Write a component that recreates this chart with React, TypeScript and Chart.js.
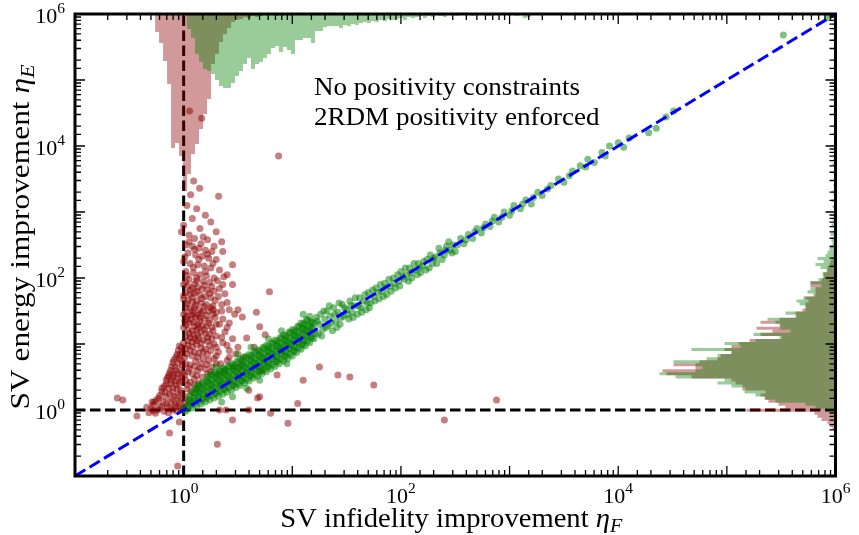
import React, { useEffect, useRef } from 'react';
import { Chart, registerables } from 'chart.js';

Chart.register(...registerables);

// ---------- axis ranges / ticks ----------
const AXIS_MIN = 0.1;
const AXIS_MAX = 1e6;
const labelledExponents = [0, 2, 4, 6];

// ---------- marginal histograms (bins are uniform in log10) ----------
const TOP_BIN_WIDTH = 0.0368; // decades of eta_F per bin
const RIGHT_BIN_WIDTH = 0.046; // decades of eta_E per bin
const TOP_COUNT_MAX = 462;
const RIGHT_COUNT_MAX = 760.5;

const redTopStart = -0.263;
const redTopCounts = [18, 29, 47, 70, 134, 129, 142, 177, 160, 140, 130, 115, 100, 85, 50, 40, 28, 20, 14, 8, 6, 5, 3, 4, 2, 3, 2, 1, 1, 0, 2, 0, 1];

const greenTopStart = 0.031;
const greenTopCounts = [
  15, 24, 40, 48, 55, 57, 60, 66, 72, 74, 74, 69, 62, 57, 50, 44, 55, 50, 48, 44,
  40, 34, 32, 38, 33, 36, 40, 26, 26, 24, 24, 29, 17, 17, 13, 12, 12, 12, 14, 11,
  12, 10, 11, 9, 8, 9, 7, 8, 6, 7, 5, 6, 5, 4, 6, 3, 4, 3, 2, 4, 2, 3, 1, 2, 3, 1,
  0, 2, 0, 1, 0, 2, 1, 0, 1, 2, 0, 1, 0, 0, 1, 0, 2, 0, 4, 3, 1, 0,
];

const rightStart = -0.303;
const redRightCounts = [
  3, 6, 8, 14, 18, 21, 89, 50, 57, 67, 71, 75, 70, 93, 93, 100, 104, 144, 169, 173,
  140, 162, 136, 118, 115, 104, 111, 104, 97, 86, 54, 75, 63, 79, 56, 75, 56, 39, 40, 33,
  30, 30, 27, 32, 22, 20, 20, 25, 25, 14, 12, 12, 8, 8, 6, 5, 3, 2, 2, 1, 0, 2, 0, 1, 0, 0, 1,
];
const greenRightCounts = [
  0, 0, 0, 0, 0, 0, 10, 20, 30, 60, 70, 80, 91, 90, 104, 118, 111, 160, 176, 140,
  133, 140, 162, 129, 118, 104, 144, 95, 111, 80, 56, 82, 45, 55, 55, 60, 68, 40, 50, 30,
  30, 36, 39, 30, 20, 28, 25, 14, 25, 17, 12, 13, 9, 15, 20, 12, 18, 10, 8, 6, 5, 3, 4, 0,
  5, 2, 0, 4, 0, 3, 2, 0, 0, 3, 0, 4, 0, 2, 3, 0, 2, 0, 0, 0, 2, 0, 0, 3, 0, 2,
];

// ---------- scatter points: [log10 eta_F, log10 eta_E] ----------
const redPoints = [
  [0.055, 4.53], [0.166, 4.42], [0.874, 3.85], [0.092, 3.47], [0.147, 3.36], [0.064, 3.26], [0.322, 3.24],
  [0.03, 3.1], [0.12, 3.05], [0.2, 2.95], [0.08, 2.9], [0.25, 2.85], [0.0, 2.8], [0.15, 2.75], [0.3, 2.7],
  [0.05, 2.65], [0.18, 2.62], [0.1, 2.6], [0.22, 2.58], [0.35, 2.55], [-0.02, 2.7],
  [0.02, 2.5], [0.08, 2.48], [0.14, 2.45], [0.2, 2.42], [0.26, 2.4], [0.04, 2.38], [0.11, 2.35], [0.17, 2.33],
  [0.23, 2.3], [0.3, 2.28], [0.0, 2.25], [0.06, 2.22], [0.13, 2.2], [0.19, 2.18], [0.25, 2.15], [0.33, 2.12],
  [0.02, 2.1], [0.09, 2.08], [0.15, 2.05], [0.21, 2.03], [0.28, 2.0], [0.4, 2.05], [0.05, 1.98], [0.12, 1.96],
  [0.18, 1.95], [0.24, 1.93], [0.36, 1.9], [0.45, 2.2],
  [0.05, 2.55], [0.16, 2.52], [0.28, 2.48], [0.1, 2.43], [0.22, 2.36], [0.36, 2.4], [0.01, 2.32], [0.14, 2.28],
  [0.27, 2.22], [0.09, 2.16], [0.2, 2.1], [0.37, 2.02], [0.03, 2.04], [0.12, 2.0], [0.31, 1.96],
  [0.0, 1.9], [0.04, 1.88], [0.08, 1.85], [0.13, 1.86], [0.17, 1.83], [0.22, 1.82], [0.28, 1.8], [0.02, 1.78],
  [0.06, 1.75], [0.1, 1.77], [0.15, 1.74], [0.2, 1.72], [0.25, 1.7], [0.32, 1.72], [0.0, 1.68], [0.04, 1.66],
  [0.08, 1.64], [0.12, 1.65], [0.16, 1.62], [0.21, 1.6], [0.27, 1.58], [0.35, 1.6], [0.02, 1.56], [0.06, 1.54],
  [0.1, 1.55], [0.14, 1.52], [0.18, 1.5], [0.23, 1.5], [0.3, 1.48], [0.42, 1.52],
  [0.02, 1.94], [0.1, 1.91], [0.19, 1.89], [0.26, 1.87], [0.33, 1.84], [0.06, 1.82], [0.12, 1.8], [0.24, 1.77],
  [0.38, 1.76], [0.0, 1.73], [0.08, 1.71], [0.17, 1.69], [0.29, 1.66], [0.03, 1.61], [0.11, 1.59], [0.19, 1.57],
  [0.25, 1.55], [0.4, 1.63], [0.08, 1.5], [0.16, 1.47], [0.27, 1.52], [0.35, 1.5], [0.47, 1.45],
  [0.0, 1.45], [0.03, 1.42], [0.07, 1.44], [0.11, 1.41], [0.15, 1.4], [0.19, 1.38], [0.24, 1.36], [0.29, 1.4],
  [0.01, 1.35], [0.05, 1.32], [0.09, 1.33], [0.13, 1.3], [0.17, 1.28], [0.21, 1.27], [0.26, 1.25], [0.33, 1.3],
  [0.0, 1.25], [0.04, 1.22], [0.08, 1.2], [0.12, 1.22], [0.16, 1.18], [0.2, 1.16], [0.24, 1.15], [0.3, 1.12],
  [0.38, 1.18], [0.02, 1.12], [0.06, 1.1], [0.1, 1.08], [0.14, 1.1], [0.18, 1.06], [0.22, 1.04], [0.28, 1.0],
  [0.36, 1.02], [0.45, 1.08], [0.0, 1.02], [0.04, 0.98], [0.08, 0.96], [0.12, 0.99], [0.16, 0.94], [0.2, 0.92],
  [0.25, 0.9], [0.32, 0.88], [0.42, 0.9], [0.5, 0.95],
  [0.02, 1.48], [0.09, 1.46], [0.13, 1.44], [0.21, 1.43], [0.27, 1.45], [0.36, 1.38], [0.03, 1.38], [0.07, 1.37],
  [0.15, 1.35], [0.23, 1.32], [0.3, 1.3], [0.4, 1.25], [0.02, 1.29], [0.1, 1.27], [0.14, 1.25], [0.19, 1.22],
  [0.27, 1.2], [0.35, 1.1], [0.05, 1.16], [0.09, 1.14], [0.13, 1.14], [0.22, 1.1], [0.26, 1.08], [0.04, 1.05],
  [0.08, 1.03], [0.12, 1.05], [0.16, 1.01], [0.24, 0.98], [0.3, 0.95], [0.4, 0.98], [0.02, 0.93], [0.06, 0.9],
  [0.1, 0.88], [0.14, 0.86], [0.18, 0.88], [0.22, 0.84], [0.3, 0.82], [0.48, 0.85],
  [-0.02, 0.95], [-0.05, 0.9], [-0.03, 0.85], [-0.07, 0.8], [-0.02, 0.75], [-0.1, 0.72], [-0.05, 0.7], [-0.08, 0.65],
  [-0.12, 0.6], [-0.03, 0.6], [-0.06, 0.55], [-0.14, 0.52], [-0.1, 0.5], [-0.02, 0.5], [-0.16, 0.45], [-0.08, 0.44],
  [-0.12, 0.4], [-0.04, 0.4], [-0.18, 0.36], [-0.14, 0.33], [-0.06, 0.32], [-0.2, 0.28], [-0.1, 0.27], [-0.02, 0.25],
  [-0.22, 0.22], [-0.16, 0.2], [-0.08, 0.2], [-0.25, 0.15], [-0.19, 0.13], [-0.12, 0.12], [-0.04, 0.13], [-0.28, 0.08],
  [-0.22, 0.06], [-0.15, 0.05], [-0.08, 0.06], [-0.3, 0.02], [-0.24, 0.0], [-0.18, -0.02], [-0.1, 0.0], [-0.03, 0.02],
  [-0.32, -0.04], [-0.26, -0.05],
  [-0.04, 0.97], [-0.01, 0.88], [-0.06, 0.84], [-0.09, 0.76], [-0.04, 0.78], [-0.01, 0.68], [-0.11, 0.66], [-0.07, 0.6],
  [-0.01, 0.56], [-0.13, 0.56], [-0.09, 0.54], [-0.05, 0.48], [-0.15, 0.49], [-0.11, 0.45], [-0.02, 0.43], [-0.07, 0.38],
  [-0.16, 0.39], [-0.2, 0.33], [-0.1, 0.34], [-0.03, 0.3], [-0.17, 0.27], [-0.13, 0.24], [-0.05, 0.22], [-0.23, 0.18],
  [-0.1, 0.16], [-0.02, 0.16], [-0.27, 0.12], [-0.16, 0.1], [-0.07, 0.1], [-0.2, 0.04], [-0.12, 0.03], [-0.05, 0.05],
  [-0.34, 0.04], [-0.28, -0.01], [-0.14, -0.04], [-0.06, -0.02],
  [0.03, 0.85], [0.08, 0.82], [0.13, 0.8], [0.18, 0.78], [0.23, 0.75], [0.28, 0.78], [0.02, 0.7], [0.06, 0.68],
  [0.1, 0.66], [0.15, 0.64], [0.2, 0.62], [0.26, 0.65], [0.34, 0.7], [0.04, 0.58], [0.08, 0.55], [0.12, 0.52],
  [0.17, 0.5], [0.22, 0.55], [0.02, 0.45], [0.06, 0.42], [0.1, 0.38], [0.14, 0.4], [0.03, 0.32], [0.07, 0.28],
  [0.02, 0.2], [0.05, 0.12], [0.0, 0.05], [0.4, 0.75], [0.46, 0.65], [0.55, 0.8], [0.38, 0.6],
  [0.01, 0.8], [0.11, 0.74], [0.16, 0.7], [0.21, 0.69], [0.05, 0.63], [0.13, 0.6], [0.25, 0.58], [0.01, 0.53],
  [0.1, 0.47], [0.04, 0.38], [0.12, 0.32], [0.01, 0.1], [0.3, 0.7], [0.33, 0.55],
  [-0.61, 0.18], [-0.56, 0.15], [-0.43, -0.09], [-0.29, 0.12], [-0.13, -0.35], [-0.04, -0.18], [0.31, -0.52],
  [0.45, -0.15], [0.96, -0.2], [0.86, 0.53], [0.68, 0.18], [0.75, 1.14], [0.79, 1.79], [0.5, 1.52], [0.54, 1.41],
  [-0.055, -0.85], [1.42, 0.53], [1.53, 0.5], [1.75, 0.38], [2.4, -0.15], [2.88, 0.15], [0.6, 0.3], [1.1, 0.45],
  [1.25, 0.65], [0.9, 0.9], [0.65, 0.95], [0.72, 0.6], [0.8, -0.05], [1.05, 0.1], [0.42, 0.8], [0.52, 0.65],
  [0.58, 1.09], [0.7, 1.26], [0.67, 1.48], [0.42, 1.32], [0.45, 1.9], [0.7, 0.2], [0.6, 0.0], [0.33, 0.0], [0.39, 0.0],
];

const greenPoints = [
  [0.0, 0.0], [0.01, 0.05], [0.02, -0.02],
  [0.04, 0.02], [0.05, 0.09], [0.04, 0.16],
  [0.08, 0.03], [0.07, 0.11], [0.09, 0.19], [0.08, 0.26],
  [0.12, 0.06], [0.11, 0.14], [0.13, 0.22], [0.12, 0.3], [0.13, 0.37],
  [0.16, 0.09], [0.17, 0.17], [0.15, 0.25], [0.16, 0.33], [0.17, 0.41],
  [0.2, 0.12], [0.21, 0.2], [0.19, 0.28], [0.2, 0.36], [0.21, 0.44],
  [0.24, 0.15], [0.23, 0.23], [0.25, 0.31], [0.24, 0.39], [0.23, 0.47], [0.25, 0.54],
  [0.28, 0.18], [0.29, 0.26], [0.27, 0.34], [0.28, 0.42], [0.29, 0.5], [0.28, 0.57],
  [0.32, 0.21], [0.31, 0.29], [0.33, 0.37], [0.32, 0.45], [0.31, 0.53], [0.33, 0.6],
  [0.36, 0.24], [0.37, 0.32], [0.35, 0.4], [0.36, 0.48], [0.37, 0.56], [0.36, 0.64],
  [0.4, 0.27], [0.39, 0.35], [0.41, 0.43], [0.4, 0.51], [0.39, 0.59], [0.41, 0.67],
  [0.44, 0.3], [0.45, 0.38], [0.43, 0.46], [0.44, 0.54], [0.45, 0.62], [0.44, 0.7],
  [0.48, 0.34], [0.47, 0.42], [0.49, 0.5], [0.48, 0.58], [0.47, 0.66], [0.49, 0.74],
  [0.52, 0.37], [0.53, 0.45], [0.51, 0.53], [0.52, 0.61], [0.53, 0.69], [0.52, 0.77],
  [0.56, 0.41], [0.55, 0.49], [0.57, 0.57], [0.56, 0.65], [0.55, 0.73], [0.57, 0.81],
  [0.6, 0.44], [0.61, 0.52], [0.59, 0.6], [0.6, 0.68], [0.61, 0.76], [0.6, 0.84],
  [0.64, 0.48], [0.63, 0.56], [0.65, 0.64], [0.64, 0.72], [0.63, 0.8], [0.65, 0.88],
  [0.68, 0.51], [0.69, 0.59], [0.67, 0.67], [0.68, 0.75], [0.69, 0.83], [0.68, 0.91],
  [0.72, 0.55], [0.71, 0.63], [0.73, 0.71], [0.72, 0.79], [0.71, 0.87], [0.73, 0.95],
  [0.76, 0.58], [0.77, 0.66], [0.75, 0.74], [0.76, 0.82], [0.77, 0.9], [0.76, 0.98],
  [0.8, 0.62], [0.79, 0.7], [0.81, 0.78], [0.8, 0.86], [0.79, 0.94], [0.81, 1.02],
  [0.84, 0.66], [0.85, 0.74], [0.83, 0.82], [0.84, 0.9], [0.85, 0.98], [0.84, 1.06],
  [0.88, 0.7], [0.87, 0.78], [0.89, 0.86], [0.88, 0.94], [0.87, 1.02], [0.89, 1.1],
  [0.92, 0.74], [0.93, 0.82], [0.91, 0.9], [0.92, 0.98], [0.93, 1.06], [0.92, 1.14],
  [0.96, 0.78], [0.95, 0.86], [0.97, 0.94], [0.96, 1.02], [0.95, 1.1], [0.97, 1.18],
  [1.0, 0.82], [1.01, 0.9], [0.99, 0.98], [1.0, 1.06], [1.01, 1.14], [1.0, 1.22],
  [1.04, 0.87], [1.03, 0.95], [1.05, 1.03], [1.04, 1.11], [1.03, 1.19], [1.05, 1.27],
  [1.08, 0.92], [1.09, 1.0], [1.07, 1.08], [1.08, 1.16], [1.09, 1.24], [1.08, 1.32],
  [1.12, 0.97], [1.11, 1.05], [1.13, 1.13], [1.12, 1.21], [1.11, 1.29], [1.13, 1.37],
  [1.16, 1.02], [1.17, 1.1], [1.15, 1.18], [1.16, 1.26], [1.17, 1.34], [1.16, 1.42],
  [1.2, 1.08], [1.21, 1.16], [1.19, 1.24], [1.2, 1.32], [1.22, 1.4],
  [0.06, 0.07], [0.06, 0.15], [0.06, 0.22],
  [0.1, 0.1], [0.1, 0.18], [0.1, 0.26], [0.1, 0.33],
  [0.14, 0.13], [0.14, 0.21], [0.14, 0.29], [0.14, 0.37],
  [0.18, 0.16], [0.18, 0.24], [0.18, 0.32], [0.18, 0.4],
  [0.22, 0.19], [0.22, 0.27], [0.22, 0.35], [0.22, 0.43], [0.22, 0.5],
  [0.26, 0.22], [0.26, 0.3], [0.26, 0.38], [0.26, 0.46], [0.26, 0.53],
  [0.3, 0.25], [0.3, 0.33], [0.3, 0.41], [0.3, 0.49], [0.3, 0.56],
  [0.34, 0.28], [0.34, 0.36], [0.34, 0.44], [0.34, 0.52], [0.34, 0.59],
  [0.38, 0.31], [0.38, 0.39], [0.38, 0.47], [0.38, 0.55], [0.38, 0.62],
  [0.42, 0.34], [0.42, 0.42], [0.42, 0.5], [0.42, 0.58], [0.42, 0.65],
  [0.46, 0.37], [0.46, 0.45], [0.46, 0.53], [0.46, 0.61], [0.46, 0.69],
  [0.5, 0.4], [0.5, 0.48], [0.5, 0.56], [0.5, 0.64], [0.5, 0.72],
  [0.54, 0.44], [0.54, 0.52], [0.54, 0.6], [0.54, 0.68], [0.54, 0.76],
  [0.58, 0.47], [0.58, 0.55], [0.58, 0.63], [0.58, 0.71], [0.58, 0.79],
  [0.62, 0.51], [0.62, 0.59], [0.62, 0.67], [0.62, 0.75], [0.62, 0.83],
  [0.66, 0.54], [0.66, 0.62], [0.66, 0.7], [0.66, 0.78], [0.66, 0.86],
  [0.7, 0.58], [0.7, 0.66], [0.7, 0.74], [0.7, 0.82], [0.7, 0.9],
  [0.74, 0.61], [0.74, 0.69], [0.74, 0.77], [0.74, 0.85], [0.74, 0.93],
  [0.78, 0.65], [0.78, 0.73], [0.78, 0.81], [0.78, 0.89], [0.78, 0.97],
  [0.82, 0.69], [0.82, 0.77], [0.82, 0.85], [0.82, 0.93], [0.82, 1.01],
  [0.86, 0.73], [0.86, 0.81], [0.86, 0.89], [0.86, 0.97], [0.86, 1.05],
  [0.9, 0.77], [0.9, 0.85], [0.9, 0.93], [0.9, 1.01], [0.9, 1.09],
  [0.94, 0.81], [0.94, 0.89], [0.94, 0.97], [0.94, 1.05], [0.94, 1.13],
  [0.98, 0.85], [0.98, 0.93], [0.98, 1.01], [0.98, 1.09], [0.98, 1.17],
  [1.02, 0.89], [1.02, 0.97], [1.02, 1.05], [1.02, 1.13], [1.02, 1.21],
  [1.06, 0.94], [1.06, 1.02], [1.06, 1.1], [1.06, 1.18], [1.06, 1.26],
  [1.1, 0.99], [1.1, 1.07], [1.1, 1.15], [1.1, 1.23], [1.1, 1.31],
  [1.14, 1.04], [1.14, 1.12], [1.14, 1.2], [1.14, 1.28], [1.14, 1.36],
  [1.18, 1.09], [1.18, 1.17], [1.18, 1.25], [1.18, 1.33],
  [0.3, 0.66], [0.5, 0.85], [0.62, 0.95], [0.78, 1.08], [0.9, 1.2], [1.1, 1.45], [0.45, 0.2], [0.7, 0.45],
  [0.95, 0.7], [0.35, 0.12], [0.58, 0.33],
  [1.24, 1.15], [1.25, 1.3], [1.26, 1.45], [1.28, 1.22], [1.3, 1.38], [1.32, 1.5], [1.33, 1.28], [1.35, 1.42],
  [1.37, 1.2], [1.38, 1.55], [1.4, 1.35], [1.42, 1.48], [1.44, 1.3], [1.46, 1.6], [1.47, 1.42], [1.5, 1.52],
  [1.52, 1.38], [1.53, 1.65], [1.55, 1.48], [1.57, 1.58], [1.6, 1.45], [1.62, 1.7], [1.63, 1.55], [1.66, 1.65],
  [1.68, 1.52], [1.7, 1.78], [1.72, 1.62], [1.75, 1.72], [1.77, 1.85], [1.8, 1.68], [1.82, 1.8], [1.85, 1.92],
  [1.87, 1.75], [1.9, 1.88], [1.93, 2.0], [1.95, 1.85], [1.98, 1.95], [2.0, 2.1], [2.03, 1.98], [2.05, 2.05],
  [2.08, 2.15], [2.1, 2.0], [2.13, 2.12], [2.16, 2.22], [2.18, 2.08], [2.2, 2.18], [2.24, 2.28], [2.26, 2.15],
  [2.3, 2.3], [2.33, 2.22], [2.36, 2.38], [2.4, 2.35], [2.42, 2.48], [2.45, 2.42], [2.48, 2.5], [2.5, 2.4],
  [1.23, 1.35], [1.27, 1.12], [1.29, 1.5], [1.31, 1.25], [1.34, 1.58], [1.36, 1.32], [1.39, 1.45], [1.41, 1.25],
  [1.43, 1.62], [1.45, 1.4], [1.48, 1.55], [1.51, 1.45], [1.54, 1.58], [1.56, 1.4], [1.58, 1.7], [1.61, 1.58],
  [1.64, 1.48], [1.67, 1.75], [1.69, 1.62], [1.71, 1.55], [1.74, 1.82], [1.76, 1.65], [1.79, 1.78], [1.81, 1.9],
  [1.84, 1.72], [1.86, 1.85], [1.89, 1.98], [1.91, 1.8], [1.94, 1.92], [1.97, 2.05], [1.99, 1.88], [2.02, 2.02],
  [2.04, 2.15], [2.07, 1.95], [2.09, 2.08], [2.12, 2.22], [2.15, 2.05], [2.17, 2.15], [2.21, 2.25], [2.23, 2.12],
  [2.27, 2.35], [2.29, 2.22], [2.32, 2.32], [2.35, 2.45], [2.38, 2.28], [2.41, 2.42], [2.44, 2.55], [2.47, 2.38],
  [2.52, 2.5], [2.6, 2.58], [2.68, 2.7], [2.76, 2.76], [2.84, 2.86], [2.93, 2.92], [3.02, 3.02], [3.12, 3.12],
  [3.22, 3.22], [3.35, 3.35], [3.55, 3.55], [3.7, 3.68], [3.88, 3.85], [4.05, 3.98],
  [2.55, 2.6], [2.58, 2.52], [2.62, 2.66], [2.66, 2.6], [2.7, 2.75], [2.74, 2.68], [2.78, 2.82], [2.82, 2.78],
  [2.86, 2.92], [2.9, 2.85], [2.95, 3.0], [3.0, 2.95], [3.04, 3.1], [3.1, 3.05], [3.15, 3.18], [3.2, 3.12],
  [3.26, 3.3], [3.3, 3.25], [3.38, 3.4], [3.45, 3.5], [3.5, 3.45], [3.58, 3.62], [3.65, 3.7], [3.72, 3.8],
  [3.78, 3.75], [3.85, 3.9], [3.92, 4.0], [4.0, 4.05], [4.1, 4.12],
  [4.28, 4.2], [4.35, 4.27], [4.44, 4.44], [4.51, 4.53], [5.52, 5.68], [5.93, 5.94],
];

// ---------- text ----------
const legendLabels = ['No positivity constraints', '2RDM positivity enforced'];
const xTitle = { text: 'SV infidelity improvement ', symbol: 'η', sub: 'F' };
const yTitle = { text: 'SV energy improvement ', symbol: 'η', sub: 'E' };

const RED = 'rgba(139,0,0,0.5)';
const GREEN = 'rgba(0,128,0,0.5)';
const RED_HIST = 'rgba(139,0,0,0.4)';
const GREEN_HIST = 'rgba(0,128,0,0.4)';
const FONT = '"Liberation Serif", "Times New Roman", serif';

function topHist(start: number, counts: number[]) {
  const pts: any[] = [{ x: 10 ** start, y: 0 }];
  counts.forEach((c, i) => {
    pts.push({ x: 10 ** (start + i * TOP_BIN_WIDTH), y: c });
    pts.push({ x: 10 ** (start + (i + 1) * TOP_BIN_WIDTH), y: c });
  });
  pts.push({ x: 10 ** (start + counts.length * TOP_BIN_WIDTH), y: 0 });
  return pts;
}
function rightHist(start: number, counts: number[]) {
  const pts: any[] = [{ x: 0, y: 10 ** start }];
  counts.forEach((c, i) => {
    pts.push({ x: c, y: 10 ** (start + i * RIGHT_BIN_WIDTH) });
    pts.push({ x: c, y: 10 ** (start + (i + 1) * RIGHT_BIN_WIDTH) });
  });
  pts.push({ x: 0, y: 10 ** (start + counts.length * RIGHT_BIN_WIDTH) });
  return pts;
}
const toXY = (arr: number[][]) => arr.map(([a, b]) => ({ x: 10 ** a, y: 10 ** b }));

type Seg = { t: string; size: number; italic?: boolean; dy?: number };
const segFont = (s: Seg) => `${s.italic ? 'italic ' : ''}${s.size}px ${FONT}`;
function measureSegs(ctx: CanvasRenderingContext2D, segs: Seg[]) {
  let w = 0;
  for (const s of segs) {
    ctx.font = segFont(s);
    w += ctx.measureText(s.t).width;
  }
  return w;
}
function drawSegs(ctx: CanvasRenderingContext2D, segs: Seg[], x: number, y: number, align: string, stretch: number, rot = 0) {
  ctx.save();
  ctx.translate(x, y);
  if (rot) ctx.rotate(rot);
  ctx.scale(stretch, 1);
  const w = measureSegs(ctx, segs);
  let cx = align === 'center' ? -w / 2 : align === 'right' ? -w : 0;
  ctx.textAlign = 'left';
  ctx.textBaseline = 'alphabetic';
  ctx.fillStyle = '#000';
  for (const s of segs) {
    ctx.font = segFont(s);
    ctx.fillText(s.t, cx, s.dy || 0);
    cx += ctx.measureText(s.t).width;
  }
  ctx.restore();
}

const isDecade = (v: number) => Math.abs(Math.log10(v) - Math.round(Math.log10(v))) < 1e-6;

const decorPlugin = {
  id: 'decor',
  afterDraw(chart: any) {
    const { ctx, chartArea: a, scales } = chart;
    const xs = scales.x;
    const ys = scales.y;
    ctx.save();
    ctx.strokeStyle = '#000';
    ctx.lineWidth = 1.3;
    ctx.beginPath();
    for (const t of xs.ticks) {
      const px = xs.getPixelForValue(t.value);
      if (px <= a.left + 1 || px >= a.right - 1) continue;
      const len = isDecade(t.value) ? 10 : 6;
      ctx.moveTo(px, a.bottom);
      ctx.lineTo(px, a.bottom - len);
      ctx.moveTo(px, a.top);
      ctx.lineTo(px, a.top + len);
    }
    for (const t of ys.ticks) {
      const py = ys.getPixelForValue(t.value);
      if (py <= a.top + 1 || py >= a.bottom - 1) continue;
      const len = isDecade(t.value) ? 10 : 6;
      ctx.moveTo(a.left, py);
      ctx.lineTo(a.left + len, py);
      ctx.moveTo(a.right, py);
      ctx.lineTo(a.right - len, py);
    }
    ctx.stroke();
    ctx.lineWidth = 3;
    ctx.strokeRect(a.left, a.top, a.right - a.left, a.bottom - a.top);

    // tick labels
    for (const e of labelledExponents) {
      const segs: Seg[] = [{ t: '10', size: 22 }, { t: String(e), size: 15.5, dy: -10 }];
      const px = xs.getPixelForValue(10 ** e);
      drawSegs(ctx, segs, px, a.bottom + 27, 'center', 1);
      const py = ys.getPixelForValue(10 ** e);
      drawSegs(ctx, segs, a.left - 10, py + 9, 'right', 1);
    }

    // axis titles
    const xSegs: Seg[] = [
      { t: xTitle.text, size: 27 },
      { t: xTitle.symbol, size: 27, italic: true },
      { t: xTitle.sub, size: 19, italic: true, dy: 5 },
    ];
    const ySegs: Seg[] = [
      { t: yTitle.text, size: 27 },
      { t: yTitle.symbol, size: 27, italic: true },
      { t: yTitle.sub, size: 19, italic: true, dy: 5 },
    ];
    const xStretch = 342 / measureSegs(ctx, xSegs);
    const yStretch = 345 / measureSegs(ctx, ySegs);
    drawSegs(ctx, xSegs, (a.left + a.right) / 2 - 4, a.bottom + 51, 'center', xStretch);
    drawSegs(ctx, ySegs, 29, (a.top + a.bottom) / 2 - 8, 'center', yStretch, -Math.PI / 2);

    // legend text
    const l1: Seg[] = [{ t: legendLabels[0], size: 24.5 }];
    const l2: Seg[] = [{ t: legendLabels[1], size: 24.5 }];
    const lStretch = 266 / measureSegs(ctx, l1);
    drawSegs(ctx, l1, a.left + 239, a.top + 81, 'left', lStretch);
    drawSegs(ctx, l2, a.left + 239, a.top + 111, 'left', lStretch);
    ctx.restore();
  },
};

export default function App() {
  const ref = useRef<HTMLCanvasElement>(null);
  useEffect(() => {
    if (!ref.current) return;
    const lineBase = { type: 'line', pointRadius: 0, fill: false };
    const chart = new Chart(ref.current, {
      type: 'scatter',
      data: {
        datasets: [
          {
            ...lineBase,
            label: 'eta_F = 1',
            data: [{ x: 1, y: AXIS_MIN }, { x: 1, y: AXIS_MAX }],
            borderColor: '#000',
            borderWidth: 3,
            borderDash: [10.5, 4.5],
            order: 8,
          },
          {
            ...lineBase,
            label: 'eta_E = 1',
            data: [{ x: AXIS_MIN, y: 1 }, { x: AXIS_MAX, y: 1 }],
            borderColor: '#000',
            borderWidth: 3,
            borderDash: [10.5, 4.5],
            order: 8,
          },
          {
            type: 'line',
            label: 'red top histogram',
            data: topHist(redTopStart, redTopCounts),
            yAxisID: 'yTop',
            pointRadius: 0,
            borderWidth: 0,
            borderColor: 'transparent',
            backgroundColor: RED_HIST,
            fill: { value: 0 },
            order: 7,
          },
          {
            type: 'line',
            label: 'red right histogram',
            indexAxis: 'y',
            data: rightHist(rightStart, redRightCounts),
            xAxisID: 'xRight',
            pointRadius: 0,
            borderWidth: 0,
            borderColor: 'transparent',
            backgroundColor: RED_HIST,
            fill: { value: 0 },
            order: 7,
          },
          {
            type: 'line',
            label: 'green top histogram',
            data: topHist(greenTopStart, greenTopCounts),
            yAxisID: 'yTop',
            pointRadius: 0,
            borderWidth: 0,
            borderColor: 'transparent',
            backgroundColor: GREEN_HIST,
            fill: { value: 0 },
            order: 6,
          },
          {
            type: 'line',
            label: 'green right histogram',
            indexAxis: 'y',
            data: rightHist(rightStart, greenRightCounts),
            xAxisID: 'xRight',
            pointRadius: 0,
            borderWidth: 0,
            borderColor: 'transparent',
            backgroundColor: GREEN_HIST,
            fill: { value: 0 },
            order: 6,
          },
          {
            label: legendLabels[0],
            data: toXY(redPoints),
            backgroundColor: RED,
            borderWidth: 0,
            pointRadius: 3.5,
            order: 4,
          },
          {
            label: legendLabels[1],
            data: toXY(greenPoints),
            backgroundColor: GREEN,
            borderWidth: 0,
            pointRadius: 3.5,
            order: 3,
          },
          {
            ...lineBase,
            label: 'eta_E = eta_F',
            data: [{ x: AXIS_MIN, y: AXIS_MIN }, { x: AXIS_MAX, y: AXIS_MAX }],
            borderColor: '#0000ff',
            borderWidth: 3,
            borderDash: [12, 5],
            order: 1,
          },
        ] as any,
      },
      options: {
        animation: false,
        responsive: true,
        maintainAspectRatio: false,
        events: [],
        layout: { padding: { left: 75, right: 23.5, top: 14, bottom: 59 } },
        plugins: { legend: { display: false }, tooltip: { enabled: false } },
        scales: {
          x: { type: 'logarithmic', min: AXIS_MIN, max: AXIS_MAX, display: false, ticks: { autoSkip: false } },
          y: { type: 'logarithmic', min: AXIS_MIN, max: AXIS_MAX, display: false, ticks: { autoSkip: false } },
          yTop: { type: 'linear', axis: 'y', min: 0, max: TOP_COUNT_MAX, reverse: true, display: false },
          xRight: { type: 'linear', axis: 'x', min: 0, max: RIGHT_COUNT_MAX, reverse: true, display: false },
        },
      } as any,
      plugins: [decorPlugin],
    });
    return () => chart.destroy();
  }, []);
  return (
    <div style={{ position: 'fixed', left: 0, top: 0, width: 859, height: 535, background: '#fff' }}>
      <canvas ref={ref} />
    </div>
  );
}
